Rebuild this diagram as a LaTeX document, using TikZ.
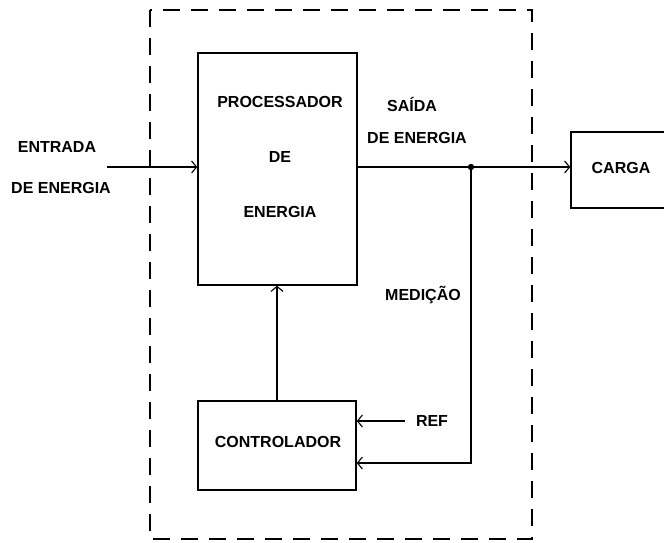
\documentclass[tikz,border=0pt]{standalone}
\usepackage{fontspec}
\setmainfont{Liberation Sans}
\usetikzlibrary{arrows.meta}
\begin{document}
\begin{tikzpicture}[x=1pt,y=-1pt,
  lbl/.style={font=\bfseries\fontsize{16}{18}\selectfont, inner sep=0pt},
  blockbox/.style={draw, line width=1.4pt, rectangle, inner sep=0pt},
  sig/.style={line width=2.8pt},
  tip/.style={-{Straight Barb[length=5pt,width=12pt,line width=1.1pt]}},
  border/.style={draw, line width=1.6pt, dash pattern=on 17pt off 11pt}]
\useasboundingbox (0,0) rectangle (664,542);
% dashed system boundary
\draw[border] (150,10) rectangle (532,539);
% blocks
\node[blockbox, minimum width=159pt, minimum height=232pt] (proc) at (277.5,169) {};
\node[blockbox, minimum width=158pt, minimum height=89pt] (ctrl) at (277,445.5) {};
\node[blockbox, minimum width=99pt, minimum height=76pt] (carga) at (620.5,170) {};
% block texts
\node[lbl] (t1) at (280,102) {PROCESSADOR};
\node[lbl] (t2) at (280,157) {DE};
\node[lbl] (t3) at (280,212) {ENERGIA};
\node[lbl] (t4) at (278,442) {CONTROLADOR};
\node[lbl] (t5) at (621,168) {CARGA};
% outer labels
\node[lbl] (e1) at (57,147) {ENTRADA};
\node[lbl] (e2) at (61,188) {DE ENERGIA};
\node[lbl] (s1) at (412,104) {SAÍDA};
\node[lbl] (s2) at (417,138) {DE ENERGIA};
\node[lbl] (m1) at (423,295) {MEDIÇÃO};
\node[lbl] (r1) at (432,421) {REF};
% coordinates
\coordinate (in) at (107,167);
\coordinate (j) at (471,167);
\coordinate (fb) at (471,463);
\coordinate (ref) at (405,421);
% connectors
\draw[sig,tip] (in) -- (in -| proc.west);
\draw[sig] (j -| proc.east) -- (j);
\draw[sig,tip] (j) -- (j -| carga.west);
\fill (j) circle (3.2pt);
\draw[sig,tip] (j) -- (fb) -- (fb -| ctrl.east);
\draw[sig,tip] (ref) -- (ref -| ctrl.east);
\draw[sig,tip] (ctrl.north) -- (ctrl.north |- proc.south);
\end{tikzpicture}
\end{document}
